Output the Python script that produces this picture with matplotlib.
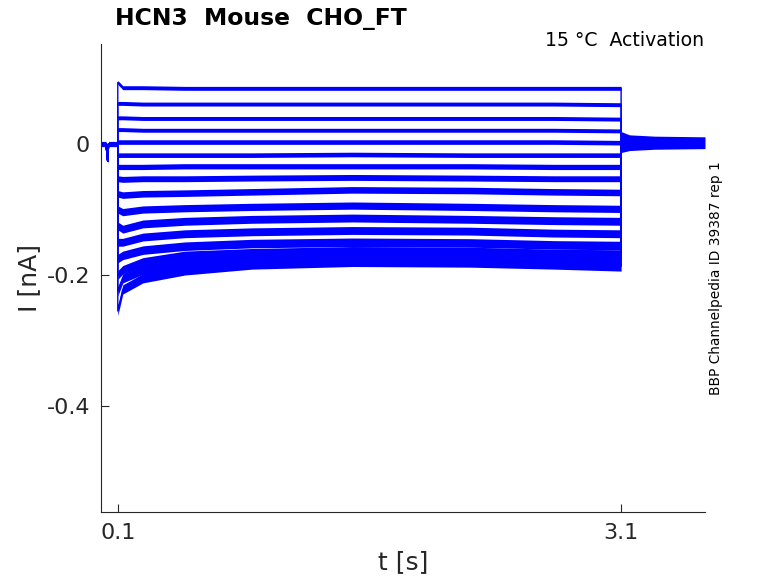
import numpy as np
import matplotlib.pyplot as plt

# sample times (s) used for the step part of every sweep
step_t = [0.1, 0.13, 0.25, 0.5, 0.9, 1.5, 2.2, 2.7, 3.1]

# current during the voltage step (nA), one row per sweep
sweeps = [
    [0.094, 0.086, 0.086, 0.085, 0.085, 0.085, 0.085, 0.085, 0.085],
    [0.062, 0.062, 0.061, 0.061, 0.061, 0.061, 0.061, 0.061, 0.060],
    [0.040, 0.040, 0.039, 0.039, 0.039, 0.039, 0.039, 0.039, 0.038],
    [0.022, 0.022, 0.021, 0.021, 0.021, 0.021, 0.021, 0.021, 0.020],
    [0.003, 0.003, 0.003, 0.003, 0.003, 0.003, 0.003, 0.003, 0.002],
    [-0.017, -0.017, -0.017, -0.017, -0.017, -0.016, -0.017, -0.017, -0.017],
    [-0.035, -0.035, -0.035, -0.034, -0.034, -0.034, -0.034, -0.035, -0.035],
    [-0.053, -0.054, -0.053, -0.053, -0.052, -0.051, -0.052, -0.053, -0.053],
    [-0.076, -0.078, -0.076, -0.075, -0.073, -0.070, -0.071, -0.073, -0.074],
    [-0.100, -0.104, -0.100, -0.098, -0.096, -0.094, -0.096, -0.098, -0.099],
    [-0.125, -0.130, -0.122, -0.118, -0.115, -0.113, -0.115, -0.117, -0.118],
    [-0.150, -0.150, -0.142, -0.137, -0.134, -0.132, -0.133, -0.136, -0.137],
    [-0.175, -0.170, -0.162, -0.156, -0.152, -0.150, -0.151, -0.154, -0.155],
    [-0.200, -0.192, -0.180, -0.170, -0.166, -0.163, -0.164, -0.167, -0.168],
    [-0.225, -0.205, -0.192, -0.182, -0.175, -0.172, -0.173, -0.176, -0.178],
    [-0.255, -0.222, -0.205, -0.193, -0.184, -0.180, -0.181, -0.184, -0.187],
]
# half width of the noise band of each sweep (nA)
noise = [0.003, 0.003, 0.003, 0.003, 0.0035, 0.0035, 0.004, 0.0045,
         0.005, 0.0055, 0.006, 0.006, 0.0065, 0.0065, 0.007, 0.007]

# holding current before and after the step
pre_t = [0.0, 0.03, 0.04, 0.045, 0.06, 0.1]
pre_i = [0.0, 0.0, -0.026, 0.0, 0.0, 0.0]
pre_noise = 0.004
tail_t = [3.1, 3.15, 3.3, 3.6]
tail_i = [0.003, 0.002, 0.002, 0.002]
tail_noise = [0.016, 0.012, 0.010, 0.009]

blue = (0, 0, 1)
grey = (0.15, 0.15, 0.15)

fig = plt.figure(figsize=(7.78, 5.83), dpi=100)
ax = fig.add_axes([101 / 778, 71 / 583, 604 / 778, 468 / 583])

for row, nz in zip(sweeps, noise):
    t = pre_t + step_t + tail_t
    i = pre_i + row + tail_i
    ax.plot(t, i, color=blue, lw=1.0)
    lo = np.array(row) - nz
    hi = np.array(row) + nz
    ax.fill_between(step_t, lo, hi, color=blue, lw=0)

ax.fill_between(pre_t, np.array(pre_i) - pre_noise, np.array(pre_i) + pre_noise,
                color=blue, lw=0)
ax.fill_between(tail_t, np.array(tail_i) - np.array(tail_noise),
                np.array(tail_i) + np.array(tail_noise), color=blue, lw=0)

ax.set_xlim(0, 3.6)
ax.set_ylim(-0.5618, 0.1527)
ax.set_xticks([0.1, 3.1])
ax.set_xticklabels(['0.1', '3.1'])
ax.set_yticks([-0.4, -0.2, 0])
ax.set_yticklabels(['-0.4', '-0.2', '0'])
ax.tick_params(direction='in', length=6, width=0.8, colors=grey,
               labelsize=16, pad=8)
for side in ['top', 'right']:
    ax.spines[side].set_visible(False)
for side in ['left', 'bottom']:
    ax.spines[side].set_color(grey)
    ax.spines[side].set_linewidth(0.8)

ax.set_xlabel('t [s]', fontsize=18, color=grey, labelpad=5)
ax.set_ylabel('I [nA]', fontsize=18, color=grey, labelpad=4)

fig.text(115 / 778, 1 - 18 / 583, 'HCN3  Mouse  CHO_FT', fontsize=16.9,
         fontweight='bold', ha='left', va='center')
fig.text(704 / 778, 1 - 41 / 583, '15 °C  Activation', fontsize=13.6,
         ha='right', va='center')
fig.text(716 / 778, 1 - 278 / 583, 'BBP Channelpedia ID 39387 rep 1',
         fontsize=9.9, rotation=90, ha='center', va='center')

fig.savefig('out.png', dpi=100)
